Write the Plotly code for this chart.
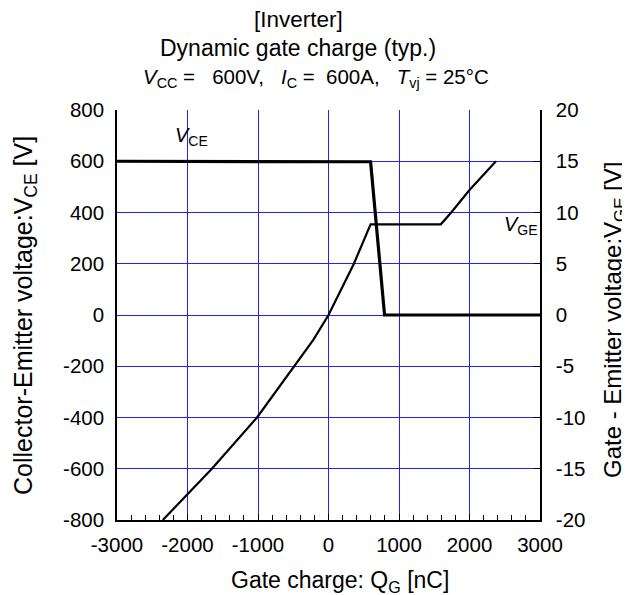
import plotly.graph_objects as go

# Data
q_vce = [-3000, 500, 597, 795, 3000]
vce = [600, 600, 598, 0, 0]
q_vge = [-2350, -2000, -1654, -1014, -493, -213, 0, 360, 597, 1593, 1741, 2000, 2375]
vge = [-20, -17.5, -15, -10, -5, -2.4, 0, 5, 8.85, 8.85, 10, 12.2, 15]

x_ticks = [-3000, -2000, -1000, 0, 1000, 2000, 3000]
x_labels = ["-3000", "-2000", "-1000", "0", "1000", "2000", "3000"]
y1_ticks = [-800, -600, -400, -200, 0, 200, 400, 600, 800]
y1_labels = ["-800", "-600", "-400", "-200", "0", "200", "400", "600", "800"]
y2_ticks = [-20, -15, -10, -5, 0, 5, 10, 15, 20]
y2_labels = ["-20", "-15", "-10", "-5", "0", "5", "10", "15", "20"]

FONT = "Liberation Sans, Arial, sans-serif"
GRID = "#2222ee"
TICK = 20.5

fig = go.Figure()
fig.add_trace(go.Scatter(x=q_vce, y=vce, mode="lines",
                         line=dict(color="black", width=3.2), yaxis="y"))
fig.add_trace(go.Scatter(x=q_vge, y=vge, mode="lines",
                         line=dict(color="black", width=2.2), yaxis="y2"))

# page body has an 8px margin, so the figure is offset by 8px
fig.update_layout(
    width=622, height=587,
    margin=dict(l=109, r=90, t=102, b=75),
    paper_bgcolor="white", plot_bgcolor="white",
    showlegend=False,
    font=dict(family=FONT, size=TICK, color="black"),
    xaxis=dict(range=[-3000, 3000], tickvals=x_ticks, ticktext=x_labels, showgrid=True,
               gridcolor=GRID, gridwidth=1, showline=True, linecolor="black",
               linewidth=1.5, ticks="inside", ticklen=6, tickcolor="black",
               minor=dict(dtick=200, ticks="inside", ticklen=5, tickcolor="black", showgrid=False),
               zeroline=False, tickfont=dict(size=TICK), ticklabelstandoff=6),
    yaxis=dict(range=[-800, 800], tickvals=y1_ticks, ticktext=y1_labels, showgrid=True,
               gridcolor=GRID, gridwidth=1, showline=True, linecolor="black",
               linewidth=1.5, ticks="", zeroline=False, tickfont=dict(size=TICK),
               ticklabelstandoff=7),
    yaxis2=dict(range=[-20, 20], tickvals=y2_ticks, ticktext=y2_labels, overlaying="y",
                side="right", showgrid=False, showline=True, linecolor="black", linewidth=1.5,
                ticks="inside", ticklen=6, tickcolor="black", zeroline=False,
                tickfont=dict(size=TICK), ticklabelstandoff=10),
)

# paper coordinates relative to the plot area (x: 117..540 px, y: 520..110 px)
def px(xp):
    return (xp - 117) / 423.0

def py(yp):
    return (520 - yp) / 410.0

ann = [
    dict(text="[Inverter]", x=px(298), y=py(19), size=22.5),
    dict(text="Dynamic gate charge (typ.)", x=px(298), y=py(48), size=23),
    dict(text="<i>V</i><sub>CC</sub> =\u00a0\u00a0\u00a0600V,\u00a0\u00a0\u00a0<i>I</i><sub>C</sub> =\u00a0\u00a0600A,\u00a0\u00a0\u00a0<i>T</i><sub>vj</sub> = 25°C",
         x=px(316), y=py(78), size=20.5),
    dict(text="Gate charge: Q<sub>G</sub> [nC]", x=px(340), y=py(581), size=23),
]
for a in ann:
    fig.add_annotation(text=a["text"], x=a["x"], y=a["y"], xref="paper", yref="paper",
                       showarrow=False, xanchor="center", yanchor="middle",
                       font=dict(family=FONT, size=a["size"], color="black"))

fig.add_annotation(text="Collector-Emitter voltage:V<sub>CE</sub> [V]", x=px(25), y=py(316),
                   xref="paper", yref="paper", showarrow=False, textangle=-90,
                   xanchor="center", yanchor="middle",
                   font=dict(family=FONT, size=25, color="black"))
fig.add_annotation(text="Gate - Emitter voltage:V<sub>GE</sub> [V]", x=px(614), y=py(320),
                   xref="paper", yref="paper", showarrow=False, textangle=-90,
                   xanchor="center", yanchor="middle",
                   font=dict(family=FONT, size=24, color="black"))

fig.add_annotation(text="<i>V</i><sub>CE</sub>", x=-1950, y=695, xref="x", yref="y",
                   showarrow=False, font=dict(family=FONT, size=20, color="black"))
fig.add_annotation(text="<i>V</i><sub>GE</sub>", x=2730, y=348, xref="x", yref="y",
                   showarrow=False, font=dict(family=FONT, size=20, color="black"))

fig.write_html("out.html")
